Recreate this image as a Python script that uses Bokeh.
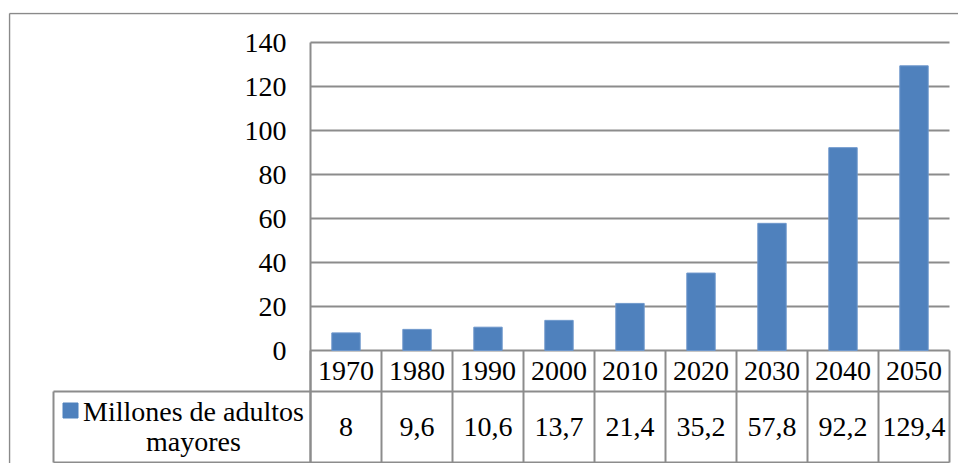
from bokeh.plotting import figure
from bokeh.models import Range1d, FixedTicker
from bokeh.core.properties import value
from bokeh.embed import file_html
from bokeh.resources import INLINE

# ---- data ----
years = ["1970", "1980", "1990", "2000", "2010", "2020", "2030", "2040", "2050"]
adultos = [8, 9.6, 10.6, 13.7, 21.4, 35.2, 57.8, 92.2, 129.4]
y_ticks = [0, 20, 40, 60, 80, 100, 120, 140]
legend_lines = ["Millones de adultos", "mayores"]

# ---- layout (pixels) ----
W, H = 958, 463
LEFT, TOP = 8, 12           # space left of / above the chart border
FRAME_W = W - LEFT
FRAME_H = H - TOP
PLOT_LEFT = 302             # plot area left, from frame left
SLOT = 71.0                 # px per category
PPU = 2.2                   # px per y unit
ZERO = 338                  # y=0 from frame top
HEAD_H = 41                 # header row height
VAL_H = 71                  # value row height
LEG_LEFT = 45               # legend cell left, from frame left

xs = 0.5 - PLOT_LEFT / SLOT
xe = xs + FRAME_W / SLOT
ye = ZERO / PPU
ys = ye - FRAME_H / PPU

def dx(px):  # frame px -> data x
    return xs + px / SLOT

def dy(px):  # frame px (from top) -> data y
    return ye - px / PPU

row1 = -HEAD_H / PPU
row2 = -(HEAD_H + VAL_H) / PPU
leg_x = dx(LEG_LEFT)

pos = [i + 1 for i in range(len(years))]
n = len(years)
FONT = "Liberation Serif"
FS = "28px"
GRID = "#8c8c8c"

p = figure(width=W, height=H, x_range=Range1d(xs, xe), y_range=Range1d(ys, ye),
           output_backend="svg", toolbar_location=None, title=None,
           min_border_left=LEFT, min_border_right=0, min_border_top=TOP, min_border_bottom=0)
p.outline_line_color = None
p.xgrid.visible = False
p.ygrid.visible = False

# chart border (left and top; right/bottom run past the window)
p.segment(x0=[dx(1), dx(1)], x1=[dx(1), xe], y0=[ys, dy(1)], y1=[dy(1), dy(1)],
          line_color="#8a8a8a", line_width=1.5)

# y axis
ya = p.yaxis[0]
ya.fixed_location = 0.5
ya.ticker = FixedTicker(ticks=y_ticks)
ya.bounds = (row2, max(y_ticks))
ya.major_tick_line_color = None
ya.minor_tick_line_color = None
ya.axis_line_color = GRID
ya.axis_line_width = 2
ya.major_label_text_font = FONT
ya.major_label_text_font_size = FS
ya.major_label_text_color = "black"
ya.major_label_standoff = 18

# x axis (year header row)
xa = p.xaxis[0]
xa.fixed_location = 0
xa.ticker = FixedTicker(ticks=pos)
xa.major_label_overrides = {pp: y for pp, y in zip(pos, years)}
xa.major_tick_line_color = None
xa.minor_tick_line_color = None
xa.axis_line_color = None
xa.major_label_text_font = FONT
xa.major_label_text_font_size = FS
xa.major_label_text_color = "black"
xa.major_label_standoff = 5

# gridlines
p.segment(x0=[0.5] * len(y_ticks), x1=[n + 0.5] * len(y_ticks), y0=y_ticks, y1=y_ticks,
          line_color=GRID, line_width=2)

# bars
p.vbar(x=pos, top=adultos, bottom=0, width=0.4, fill_color="#4F81BD",
       line_color="#6F98CC", line_width=1)

# data table lines
p.segment(x0=[leg_x, leg_x], x1=[n + 0.5, n + 0.5], y0=[row1, row2], y1=[row1, row2],
          line_color=GRID, line_width=2)
vx = [k + 0.5 for k in range(n + 1)]
p.segment(x0=vx, x1=vx, y0=[0] * len(vx), y1=[row2] * len(vx), line_color=GRID, line_width=2)
p.segment(x0=[leg_x], x1=[leg_x], y0=[row1], y1=[row2], line_color=GRID, line_width=2)

# values
labels = [("%g" % v).replace(".", ",") for v in adultos]
p.text(x=pos, y=[(row1 + row2) / 2] * n, text=labels, text_font=value(FONT),
       text_font_size=FS, text_align="center", text_baseline="middle", text_color="black")

# legend cell
p.scatter(x=[dx(62)], y=[dy(398)], marker="square", size=15, fill_color="#4F81BD",
          line_color="#4F81BD")
p.text(x=[dx(185), dx(185)], y=[dy(399), dy(429)], text=legend_lines, text_font=value(FONT),
       text_font_size=FS, text_align="center", text_baseline="middle", text_color="black")

open("out.html", "w").write(file_html(p, INLINE))
